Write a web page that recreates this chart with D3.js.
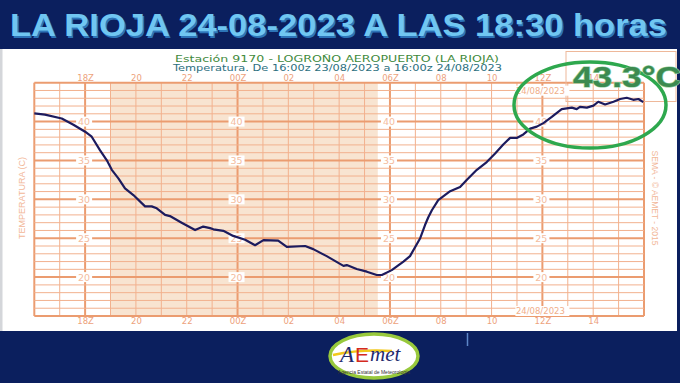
<!DOCTYPE html>
<html><head><meta charset="utf-8">
<script src="https://cdn.jsdelivr.net/npm/d3@7"></script>
<style>body{margin:0;background:#0b1f5e}svg{display:block}</style>
</head><body><svg id="c" width="680" height="383"></svg>
<script>
// ---- data ----
const hours = [0,0.42,1.08,1.54,2.0,2.26,2.59,2.85,3.05,3.31,3.57,3.9,4.36,4.62,4.82,5.15,5.34,5.8,6.33,6.65,6.92,7.05,7.44,7.83,8.3,8.69,9.02,9.6,9.94,10.66,10.98,11.51,12.17,12.3,12.69,13.09,13.48,13.68,14.07,14.53,14.79,15.19,15.38,15.51,15.65,15.9,16.37,16.76,17.02,17.42,17.81,18.14,18.46,18.73,18.99,19.25,19.52,19.78,20.04,20.37,20.76,21.16,21.35,21.48,21.75,22.01,22.2,22.47,22.8,23.06,23.32,23.58,23.78,23.97];
const temps = [41.05,40.9,40.4,39.6,38.7,38.05,36.3,35.05,33.8,32.7,31.4,30.55,29.1,29.1,28.85,28.0,27.85,27.0,26.05,26.5,26.3,26.15,25.95,25.3,24.8,24.1,24.75,24.7,23.9,24.0,23.6,22.7,21.45,21.55,21.05,20.7,20.27,20.27,20.9,22.0,22.7,25.0,26.7,27.7,28.6,29.9,31.05,31.6,32.5,33.8,34.8,35.9,37.05,37.9,37.9,38.35,39.1,39.35,39.8,40.6,41.6,41.8,41.6,41.9,41.8,42.05,42.55,42.2,42.55,42.9,43.06,42.8,42.9,42.5];
const tickHours = [2,4,6,8,10,12,14,16,18,20,22];
const tickLabels = ["18Z","20","22","00Z","02","04","06Z","08","10","12Z","14"];
const thickHours = [0,2,8,14,20,24];
const yLabelValues = [20,25,30,35,40];
const yLabelHours = [2,8,14,20];
const nightStart = 3, nightEnd = 13.52;
const title = "LA RIOJA 24-08-2023 A LAS 18:30 horas";
const station = "Estación 9170 - LOGROÑO AEROPUERTO (LA RIOJA)";
const subtitle = "Temperatura. De 16:00z 23/08/2023 a 16:00z 24/08/2023";
const dateLabel = "24/08/2023";
const maxLabel = "43.3°C";
const leftLabel = "TEMPERATURA (C)";
const rightLabel = "SEMA - © AEMET - 2015";

const svg = d3.select("#c");
const x = d3.scaleLinear([0,24],[34.3,644]);
const y = d3.scaleLinear([15,45],[316,82.7]);
const thin = "#f2b18e", thick = "#eb9c70", lab = "#eda27c";

// background bands
svg.append("rect").attr("x",0).attr("y",0).attr("width",680).attr("height",383).attr("fill","#0b1f5e");
svg.append("rect").attr("x",0).attr("y",49).attr("width",677).attr("height",282).attr("fill","#ffffff");
svg.append("rect").attr("x",0).attr("y",49).attr("width",2.5).attr("height",282).attr("fill","#d4d6da");
svg.append("line").attr("x1",467.5).attr("x2",467.5).attr("y1",333).attr("y2",346).attr("stroke","#5d86c8").attr("stroke-width",1.5);

// title
const tg = svg.append("g");
tg.append("text").attr("x",11.5).attr("y",37.5).text(title)
  .attr("font-family","Liberation Sans, Arial, sans-serif").attr("font-weight","bold").attr("font-size",32)
  .attr("textLength",657).attr("lengthAdjust","spacingAndGlyphs").attr("fill","#2d74b8");
tg.append("text").attr("x",10).attr("y",36).text(title)
  .attr("font-family","Liberation Sans, Arial, sans-serif").attr("font-weight","bold").attr("font-size",32)
  .attr("textLength",657).attr("lengthAdjust","spacingAndGlyphs").attr("fill","#70c6f1");

// night shading
svg.append("rect").attr("x",x(nightStart)).attr("y",y(45)).attr("width",x(nightEnd)-x(nightStart)).attr("height",y(15)-y(45)).attr("fill","#f8e4d1");

// grid
const grid = svg.append("g");
d3.range(0,25).forEach(h=>{
  const t = thickHours.includes(h);
  grid.append("line").attr("x1",x(h)).attr("x2",x(h)).attr("y1",y(45)).attr("y2",y(15))
    .attr("stroke",t?thick:thin).attr("stroke-width",t?2:1);
});
d3.range(15,46).forEach(v=>{
  const t = v%5===0;
  grid.append("line").attr("x1",x(0)).attr("x2",x(24)).attr("y1",y(v)).attr("y2",y(v))
    .attr("stroke",t?thick:thin).attr("stroke-width",t?2:1);
});

// inset box top-right
svg.append("rect").attr("x",566).attr("y",51.5).attr("width",110).attr("height",50).attr("fill","none").attr("stroke","#eeb89a").attr("stroke-width",1);

// y value labels
yLabelHours.forEach(h=>{
  yLabelValues.forEach(v=>{
    svg.append("rect").attr("x",x(h)-9).attr("y",y(v)-5).attr("width",16).attr("height",10).attr("fill","#fff");
    svg.append("text").attr("x",x(h)-1).attr("y",y(v)+3.5).attr("text-anchor","middle").text(v)
      .attr("font-family","DejaVu Sans, sans-serif").attr("font-size",9.5).attr("fill","#f4bc9e");
  });
});

// hour axes
const fmt = (d)=>tickLabels[tickHours.indexOf(d)];
const axTop = svg.append("g").attr("transform",`translate(0,${y(45)-1.5})`)
  .call(d3.axisTop(x).tickValues(tickHours).tickFormat(fmt).tickSize(0).tickPadding(0));
const axBot = svg.append("g").attr("transform",`translate(0,${y(15)+1})`)
  .call(d3.axisBottom(x).tickValues(tickHours).tickFormat(fmt).tickSize(0).tickPadding(0));
[axTop,axBot].forEach(a=>{
  a.select(".domain").remove();
  a.selectAll("text").attr("font-family","DejaVu Sans, sans-serif").attr("font-size",8.5).attr("fill",lab);
});
axTop.selectAll("text").attr("dy","0em");
axBot.selectAll("text").attr("dy","0.85em");

// date labels
[y(45)+11, y(15)-2].forEach(yy=>{
  svg.append("rect").attr("x",x(20)-27).attr("y",yy-8).attr("width",54).attr("height",10).attr("fill","#fff");
  svg.append("text").attr("x",x(20)-2).attr("y",yy).attr("text-anchor","middle").text(dateLabel)
    .attr("font-family","DejaVu Sans, sans-serif").attr("font-size",8.5).attr("fill","#f0ae8a");
});

// station titles
svg.append("text").attr("x",175).attr("y",61.5).text(station).attr("textLength",324).attr("lengthAdjust","spacingAndGlyphs")
  .attr("font-family","DejaVu Sans, sans-serif").attr("font-size",9.5).attr("fill","#3f8a3c");
svg.append("text").attr("x",173).attr("y",71.3).text(subtitle).attr("textLength",329).attr("lengthAdjust","spacingAndGlyphs")
  .attr("font-family","DejaVu Sans, sans-serif").attr("font-size",9.5).attr("fill","#2b6f80");

// side labels
svg.append("text").attr("transform","translate(24.5,198) rotate(-90)").attr("text-anchor","middle").text(leftLabel)
  .attr("font-family","Liberation Sans, sans-serif").attr("font-size",9).attr("fill","#f2b798");
svg.append("text").attr("transform","translate(652,198) rotate(90)").attr("text-anchor","middle").text(rightLabel)
  .attr("font-family","Liberation Sans, sans-serif").attr("font-size",8.5).attr("fill","#f2b798");

// curve
const line = d3.line().x((d,i)=>x(hours[i])).y(d=>y(d)).curve(d3.curveLinear);
svg.append("path").attr("d",line(temps)).attr("fill","none").attr("stroke","#1c1b5e").attr("stroke-width",2.2).attr("stroke-linejoin","round");

// highlight ellipse and max label
svg.append("ellipse").attr("cx",590).attr("cy",105).attr("rx",76).attr("ry",43).attr("fill","none").attr("stroke","#2ea84e").attr("stroke-width",3.5);
svg.append("text").attr("x",573).attr("y",86.5).text(maxLabel).attr("textLength",108).attr("lengthAdjust","spacingAndGlyphs")
  .attr("font-family","Liberation Sans, Arial, sans-serif").attr("font-weight","bold").attr("font-size",29)
  .attr("fill","#3c8a50").attr("stroke","#8fcf9c").attr("stroke-width",1.2).attr("paint-order","stroke");

// AEMET logo
const lg = svg.append("g");
lg.append("ellipse").attr("cx",374).attr("cy",356).attr("rx",44).attr("ry",22).attr("fill","#fff").attr("stroke","#98c93c").attr("stroke-width",3.5);
lg.append("path").attr("d","M333,355 Q360,349 392,351").attr("fill","none").attr("stroke","#f2c81a").attr("stroke-width",2.5);
lg.append("text").attr("x",340).attr("y",362).text("A").attr("font-family","Liberation Serif, serif").attr("font-style","italic").attr("font-size",23).attr("fill","#1e2a6e");
lg.append("text").attr("x",355).attr("y",362).text("E").attr("font-family","Liberation Sans, sans-serif").attr("font-size",21).attr("fill","#d42a1e");
lg.append("text").attr("x",370).attr("y",361).text("met").attr("font-family","Liberation Serif, serif").attr("font-style","italic").attr("font-size",21).attr("fill","#1e2a6e");
lg.append("text").attr("x",374).attr("y",374).attr("text-anchor","middle").text("Agencia Estatal de Meteorología").attr("font-family","Liberation Sans, sans-serif").attr("font-size",5).attr("fill","#333");
</script></body></html>
